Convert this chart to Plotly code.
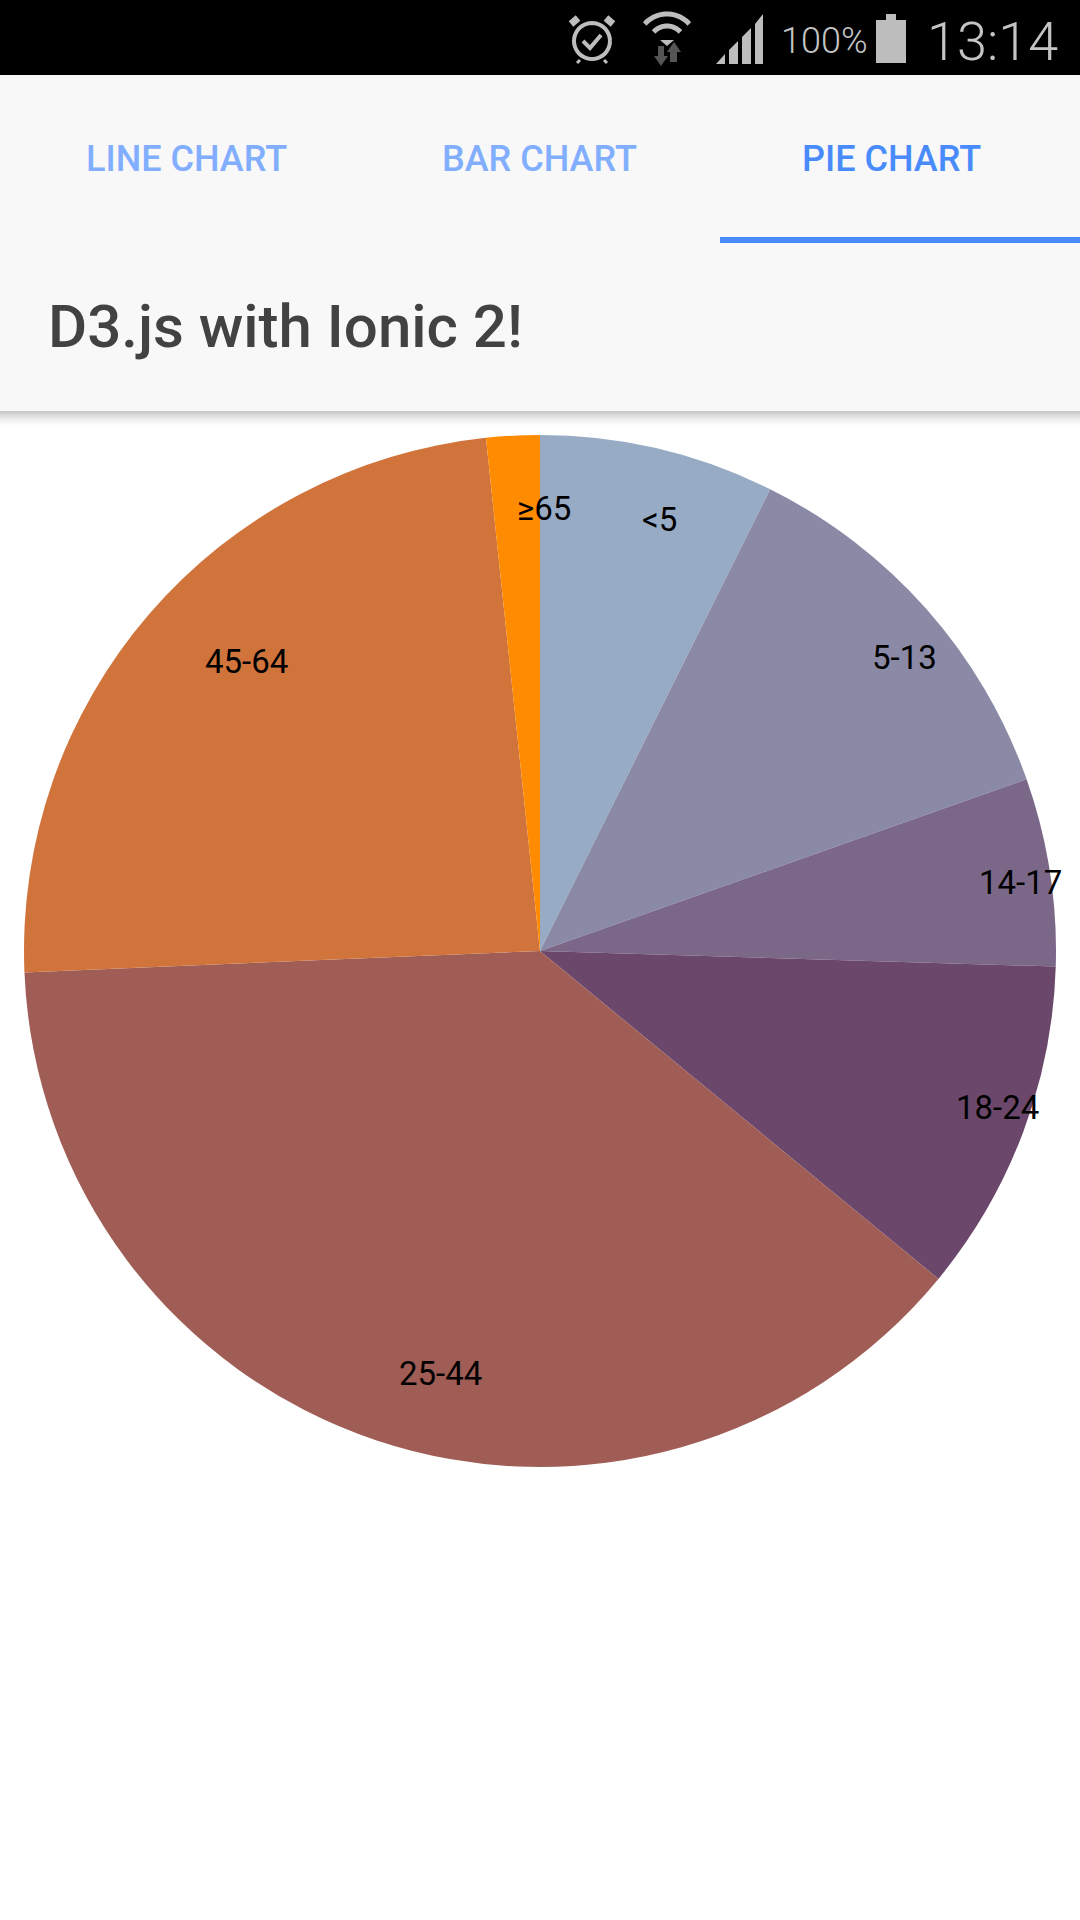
import math
import plotly.graph_objects as go

W, H = 1080, 1920

age_groups = ["<5", "5-13", "14-17", "18-24", "25-44", "45-64", "≥65"]
shares = [7.36, 12.24, 5.88, 10.48, 38.38, 23.99, 1.67]
slice_colors = ["#98abc5", "#8a89a6", "#7b6888", "#6b486b", "#a05d56", "#d0743c", "#ff8c00"]
tab_labels = ["LINE CHART", "BAR CHART", "PIE CHART"]
page_title = "D3.js with Ionic 2!"
battery_text = "100%"
clock_text = "13:14"

label_px = [(659, 520), (905, 657), (1020, 882), (997, 1107), (440, 1373), (246, 661), (544, 508)]
CX, CY, R = 540, 951, 516

def px(x): return x / W
def py(y): return 1 - y / H

def path(points, close=True):
    s = "M" + " L".join(f"{px(x):.5f},{py(y):.5f}" for x, y in points)
    return s + (" Z" if close else "")

def rect(x0, y0, x1, y1, color, opacity=1):
    return dict(type="rect", xref="paper", yref="paper", x0=px(x0), x1=px(x1), y0=py(y0), y1=py(y1),
                fillcolor=color, opacity=opacity, line_width=0, layer="above")

def poly(points, color):
    return dict(type="path", xref="paper", yref="paper", path=path(points), fillcolor=color, line_width=0, layer="above")

def stroke(points, color, width):
    return dict(type="path", xref="paper", yref="paper", path=path(points, False), line=dict(color=color, width=width), layer="above")

def arc(cx, cy, r, a0, a1, n=24):
    return [(cx + r * math.cos(math.radians(a0 + (a1 - a0) * i / n)),
             cy + r * math.sin(math.radians(a0 + (a1 - a0) * i / n))) for i in range(n + 1)]

GREY = "#bdbdbd"
shapes = [rect(0, 0, W, 75, "#000000"), rect(0, 75, W, 411, "#f8f8f8"), rect(720, 237, W, 243, "#4a8bfc")]
for i in range(15):
    shapes.append(rect(0, 411 + i, W, 412 + i, "#000000", 0.22 * (1 - i / 15) ** 1.5))

# status-bar icons
shapes += [
    stroke(arc(592, 41, 18, 0, 360, 40), GREY, 4),
    stroke([(583, 41), (590, 48), (601, 35)], GREY, 4),
    stroke([(571, 24), (578, 18)], GREY, 7),
    stroke([(606, 18), (613, 24)], GREY, 7),
    stroke([(580, 60), (577, 63)], GREY, 3),
    stroke([(604, 60), (607, 63)], GREY, 3),
    stroke(arc(667, 44, 30, 222, 318), GREY, 5),
    stroke(arc(667, 44, 18, 222, 318), GREY, 5),
    poly([(667, 46), (660, 40), (674, 40)], GREY),
    rect(658, 46, 664, 57, "#555555"),
    poly([(654, 56), (668, 56), (661, 66)], "#555555"),
    rect(670, 51, 677, 62, "#555555"),
    poly([(667, 52), (681, 52), (674, 42)], "#555555"),
    poly([(716, 64), (725, 54), (725, 64)], GREY),
    poly([(729, 64), (729, 50), (738, 41), (738, 64)], GREY),
    poly([(742, 64), (742, 37), (751, 28), (751, 64)], GREY),
    poly([(755, 64), (755, 24), (763, 14), (763, 64)], GREY),
    rect(876, 20, 906, 63, GREY),
    rect(886, 14, 896, 20, GREY),
]

annotations = []
def text(x, y, s, size, color, weight=400, anchor="center"):
    annotations.append(dict(x=px(x), y=py(y), xref="paper", yref="paper", text=s, showarrow=False,
                            xanchor=anchor, yanchor="middle",
                            font=dict(family="Roboto", size=size, color=color, weight=weight)))

for (x, y), s in zip(label_px, age_groups):
    text(x, y, s, 33, "#000000")
text(187, 159, tab_labels[0], 36, "#82aeff", 500)
text(539, 159, tab_labels[1], 36, "#82aeff", 500)
text(891, 159, tab_labels[2], 36, "#4a8bfc", 500)
text(46, 327, page_title, 60, "#424242", 500, "left")
text(824, 41, battery_text, 36, "#c4c4c4", 300)
text(992, 41, clock_text, 54, "#c4c4c4", 300)

fig = go.Figure(go.Pie(
    labels=age_groups, values=shares, sort=False, direction="clockwise", rotation=0,
    marker=dict(colors=slice_colors, line=dict(width=0)), textinfo="none", hoverinfo="label+percent",
    domain=dict(x=[px(CX - R), px(CX + R)], y=[py(CY + R), py(CY - R)]),
))
fig.update_layout(width=W, height=H, margin=dict(l=0, r=0, t=0, b=0), showlegend=False,
                  paper_bgcolor="#ffffff", shapes=shapes, annotations=annotations)
fig.write_html("out.html", config=dict(displayModeBar=False),
               post_script="document.body.style.margin='0';document.documentElement.style.overflow='hidden';")
